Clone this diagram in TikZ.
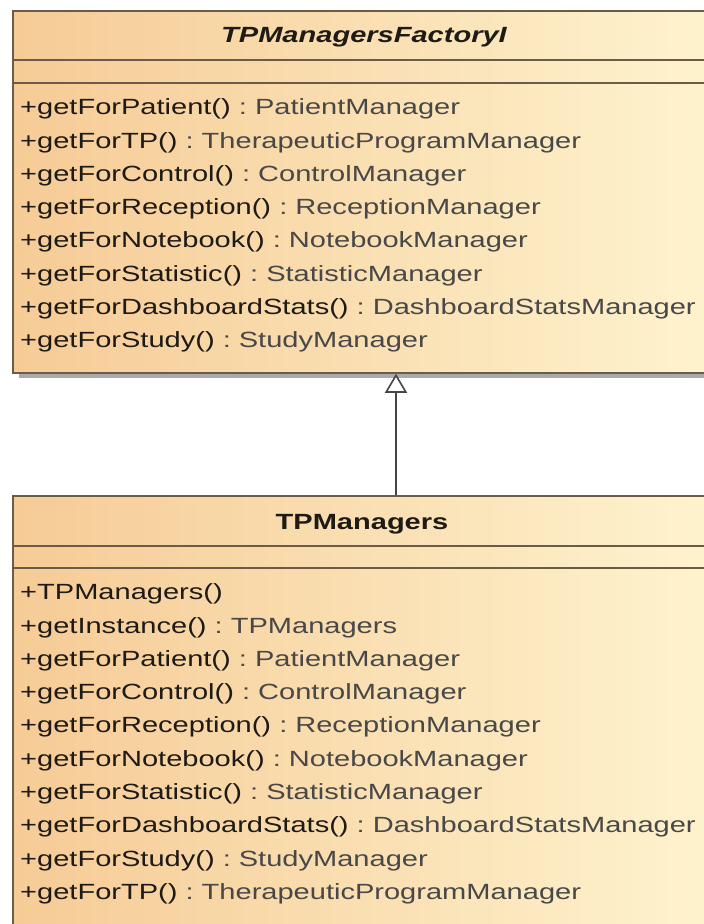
\documentclass[tikz,border=0pt]{standalone}
\usepackage{fontspec}
\setmainfont{Liberation Sans}
\newfontfamily\umlfont[FakeStretch=1.32]{Liberation Sans}
\usetikzlibrary{arrows.meta}

\definecolor{classLeft}{RGB}{246,203,150}
\definecolor{classRight}{RGB}{254,243,206}
\definecolor{classBorder}{RGB}{105,92,72}
\definecolor{typeGray}{RGB}{72,72,72}
\definecolor{nameDark}{RGB}{30,26,22}
\definecolor{shadowGray}{RGB}{170,170,170}
\definecolor{linkGray}{RGB}{70,70,70}

% operation: name, then the return type in grey
\newcommand{\op}[2]{\textcolor{nameDark}{#1}\ \textcolor{typeGray}{:\ #2}}

\begin{document}
\begin{tikzpicture}[x=1pt,y=-1pt,
  classbox/.style={draw=classBorder, line width=1.6pt,
    left color=classLeft, right color=classRight,
    inner sep=0pt, minimum width=698pt},
  shadowbox/.style={fill=shadowGray, draw=none, inner sep=0pt, minimum width=698pt},
  sepline/.style={draw=classBorder, line width=1.6pt},
  member/.style={anchor=base west, inner sep=0pt,
    font=\umlfont\fontsize{22}{26}\selectfont},
  classtitle/.style={anchor=base, inner sep=0pt,
    font=\umlfont\fontsize{22}{26}\selectfont\bfseries, text=nameDark},
  generalization/.style={draw=linkGray, line width=1.6pt,
    -{Triangle[length=19pt,width=22pt,fill=white,line width=1.6pt]}}
]
\clip (0,0) rectangle (704,924);
\fill[white] (0,0) rectangle (704,924);

% shadows
\node[shadowbox, minimum height=362pt] at (368,197) {};
\node[shadowbox, minimum height=444pt] at (368,723) {};

% interface box
\node[classbox, minimum height=362pt] (factory) at (362,192) {};
\draw[sepline] (12.7,60) -- (711,60);
\draw[sepline] (12.7,83) -- (711,83);
\node[classtitle, font=\umlfont\fontsize{22}{26}\selectfont\bfseries\itshape] (factoryname) at (364,42) {TPManagersFactoryI};
\node[member] (f1) at (20,114.7) {\op{+getForPatient()}{PatientManager}};
\node[member] (f2) at (20,148.0) {\op{+getForTP()}{TherapeuticProgramManager}};
\node[member] (f3) at (20,181.3) {\op{+getForControl()}{ControlManager}};
\node[member] (f4) at (20,214.6) {\op{+getForReception()}{ReceptionManager}};
\node[member] (f5) at (20,247.9) {\op{+getForNotebook()}{NotebookManager}};
\node[member] (f6) at (20,281.2) {\op{+getForStatistic()}{StatisticManager}};
\node[member] (f7) at (20,314.5) {\op{+getForDashboardStats()}{DashboardStatsManager}};
\node[member] (f8) at (20,347.8) {\op{+getForStudy()}{StudyManager}};

% implementing class
\node[classbox, minimum height=444pt] (impl) at (362,718) {};
\draw[sepline] (12.7,546) -- (711,546);
\draw[sepline] (12.7,568) -- (711,568);
\node[classtitle] (implname) at (362,529) {TPManagers};
\node[member] (m1) at (20,599.7) {\textcolor{nameDark}{+TPManagers()}};
\node[member] (m2) at (20,633.0) {\op{+getInstance()}{TPManagers}};
\node[member] (m3) at (20,666.3) {\op{+getForPatient()}{PatientManager}};
\node[member] (m4) at (20,699.6) {\op{+getForControl()}{ControlManager}};
\node[member] (m5) at (20,732.9) {\op{+getForReception()}{ReceptionManager}};
\node[member] (m6) at (20,766.2) {\op{+getForNotebook()}{NotebookManager}};
\node[member] (m7) at (20,799.5) {\op{+getForStatistic()}{StatisticManager}};
\node[member] (m8) at (20,832.8) {\op{+getForDashboardStats()}{DashboardStatsManager}};
\node[member] (m9) at (20,866.1) {\op{+getForStudy()}{StudyManager}};
\node[member] (m10) at (20,899.4) {\op{+getForTP()}{TherapeuticProgramManager}};

% generalization
\coordinate (linkx) at (396,0);
\draw[generalization] (impl.north -| linkx) -- (factory.south -| linkx);
\end{tikzpicture}
\end{document}
